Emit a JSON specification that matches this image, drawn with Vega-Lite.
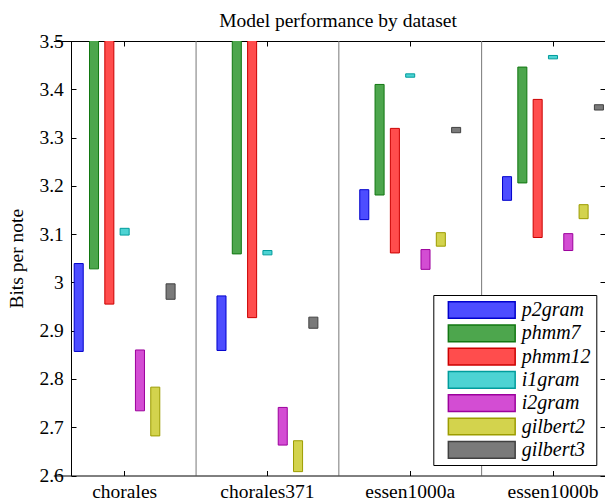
{
  "$schema": "https://vega.github.io/schema/vega-lite/v6.json",
  "autosize": {"type": "none"},
  "padding": {"left": 71, "top": 41, "right": 0, "bottom": 25.5},
  "width": 534,
  "height": 434.5,
  "title": {"text": "Model performance by dataset", "font": "Liberation Serif", "fontSize": 19.5, "fontWeight": "normal", "color": "black", "offset": 0, "anchor": "middle"},
  "config": {
    "view": {"stroke": null},
    "font": "Liberation Serif",
    "axis": {"labelFont": "Liberation Serif", "titleFont": "Liberation Serif", "labelFontSize": 19.5, "titleFontSize": 19.5, "titleFontWeight": "normal", "labelColor": "black", "titleColor": "black", "domainColor": "black", "tickColor": "black", "grid": false}
  },
  "datasets": {
    "bars": [
      {"dataset": "chorales", "model": "p2gram", "lo": 2.857, "hi": 3.039},
      {"dataset": "chorales", "model": "phmm7", "lo": 3.028, "hi": 3.6},
      {"dataset": "chorales", "model": "phmm12", "lo": 2.955, "hi": 3.6},
      {"dataset": "chorales", "model": "i1gram", "lo": 3.098, "hi": 3.112},
      {"dataset": "chorales", "model": "i2gram", "lo": 2.734, "hi": 2.86},
      {"dataset": "chorales", "model": "gilbert2", "lo": 2.682, "hi": 2.783},
      {"dataset": "chorales", "model": "gilbert3", "lo": 2.965, "hi": 2.997},
      {"dataset": "chorales371", "model": "p2gram", "lo": 2.859, "hi": 2.972},
      {"dataset": "chorales371", "model": "phmm7", "lo": 3.059, "hi": 3.6},
      {"dataset": "chorales371", "model": "phmm12", "lo": 2.927, "hi": 3.6},
      {"dataset": "chorales371", "model": "i1gram", "lo": 3.057, "hi": 3.066},
      {"dataset": "chorales371", "model": "i2gram", "lo": 2.663, "hi": 2.741},
      {"dataset": "chorales371", "model": "gilbert2", "lo": 2.608, "hi": 2.672},
      {"dataset": "chorales371", "model": "gilbert3", "lo": 2.905, "hi": 2.928},
      {"dataset": "essen1000a", "model": "p2gram", "lo": 3.13, "hi": 3.192},
      {"dataset": "essen1000a", "model": "phmm7", "lo": 3.181, "hi": 3.41},
      {"dataset": "essen1000a", "model": "phmm12", "lo": 3.061, "hi": 3.319},
      {"dataset": "essen1000a", "model": "i1gram", "lo": 3.425, "hi": 3.432},
      {"dataset": "essen1000a", "model": "i2gram", "lo": 3.027, "hi": 3.068},
      {"dataset": "essen1000a", "model": "gilbert2", "lo": 3.075, "hi": 3.103},
      {"dataset": "essen1000a", "model": "gilbert3", "lo": 3.31, "hi": 3.321},
      {"dataset": "essen1000b", "model": "p2gram", "lo": 3.17, "hi": 3.219},
      {"dataset": "essen1000b", "model": "phmm7", "lo": 3.206, "hi": 3.446},
      {"dataset": "essen1000b", "model": "phmm12", "lo": 3.093, "hi": 3.379},
      {"dataset": "essen1000b", "model": "i1gram", "lo": 3.463, "hi": 3.47},
      {"dataset": "essen1000b", "model": "i2gram", "lo": 3.066, "hi": 3.101},
      {"dataset": "essen1000b", "model": "gilbert2", "lo": 3.132, "hi": 3.161},
      {"dataset": "essen1000b", "model": "gilbert3", "lo": 3.357, "hi": 3.368}
    ],
    "separators": [
      {"dataset": "chorales371"},
      {"dataset": "essen1000a"},
      {"dataset": "essen1000b"}
    ]
  },
  "resolve": {"axis": {"x": "independent", "y": "independent"}},
  "layer": [
    {
      "data": {"name": "separators"},
      "mark": {"type": "rule", "color": "#777777", "strokeWidth": 1},
      "encoding": {
        "x": {"field": "dataset", "type": "nominal", "bandPosition": 0,
              "scale": {"domain": ["chorales", "chorales371", "essen1000a", "essen1000b"], "range": [-17.7, 553.4], "paddingInner": 0, "paddingOuter": 0},
              "axis": {"orient": "top", "title": null, "labels": false, "tickSize": -5, "domain": true, "bandPosition": 0.5}},
        "y": {"datum": 2.6, "type": "quantitative",
              "scale": {"domain": [2.6, 3.5], "nice": false, "zero": false},
              "axis": {"orient": "right", "title": null, "labels": false, "domain": false, "tickSize": -5, "values": [2.6, 2.7, 2.8, 2.9, 3.0, 3.1, 3.2, 3.3, 3.4, 3.5]}},
        "y2": {"datum": 3.5}
      }
    },
    {
      "data": {"name": "bars"},
      "mark": {"type": "bar", "clip": true, "strokeWidth": 1, "opacity": 1},
      "encoding": {
        "x": {"field": "dataset", "type": "nominal",
              "axis": {"orient": "bottom", "title": null, "labelAngle": 0, "tickSize": -5, "labelPadding": 12, "domain": true, "zindex": 2}},
        "xOffset": {"field": "model", "type": "nominal",
                    "sort": ["p2gram", "phmm7", "phmm12", "i1gram", "i2gram", "gilbert2", "gilbert3"],
                    "scale": {"range": [20.9, 121.8], "paddingInner": 0.41, "paddingOuter": 0}},
        "y": {"field": "lo", "type": "quantitative",
              "axis": {"orient": "left", "title": "Bits per note", "tickSize": -5, "labelPadding": 12.7, "format": "~g", "titlePadding": 12, "values": [2.6, 2.7, 2.8, 2.9, 3.0, 3.1, 3.2, 3.3, 3.4, 3.5]}},
        "y2": {"field": "hi"},
        "fill": {"field": "model", "type": "nominal",
                 "scale": {"domain": ["p2gram", "phmm7", "phmm12", "i1gram", "i2gram", "gilbert2", "gilbert3"],
                           "range": ["#4d4dff", "#4da64d", "#ff4d4d", "#4dd3d3", "#d34dd3", "#d3d34d", "#7a7a7a"]},
                 "legend": {"title": null, "orient": "none", "legendX": 362.3, "legendY": 254, "zindex": 1,
                            "symbolType": "M-1,-1H7V1H-1Z", "symbolSize": 279, "symbolStrokeWidth": 1.5, "symbolOpacity": 1,
                            "labelFont": "Liberation Serif", "labelFontStyle": "italic", "labelFontSize": 20, "labelColor": "black",
                            "labelOffset": 55, "rowPadding": 3.3, "padding": 5, "symbolOffset": 8.4, "clipHeight": 20,
                            "strokeColor": "black", "fillColor": "white",
                            "encode": {"symbols": {"update": {"stroke": {"scale": "stroke", "field": "value"}}}}}},
        "stroke": {"field": "model", "type": "nominal", "legend": null,
                   "scale": {"domain": ["p2gram", "phmm7", "phmm12", "i1gram", "i2gram", "gilbert2", "gilbert3"],
                             "range": ["#0000cc", "#117711", "#cc0000", "#009c9c", "#9c009c", "#9c9c00", "#404040"]}}
      }
    }
  ]
}
